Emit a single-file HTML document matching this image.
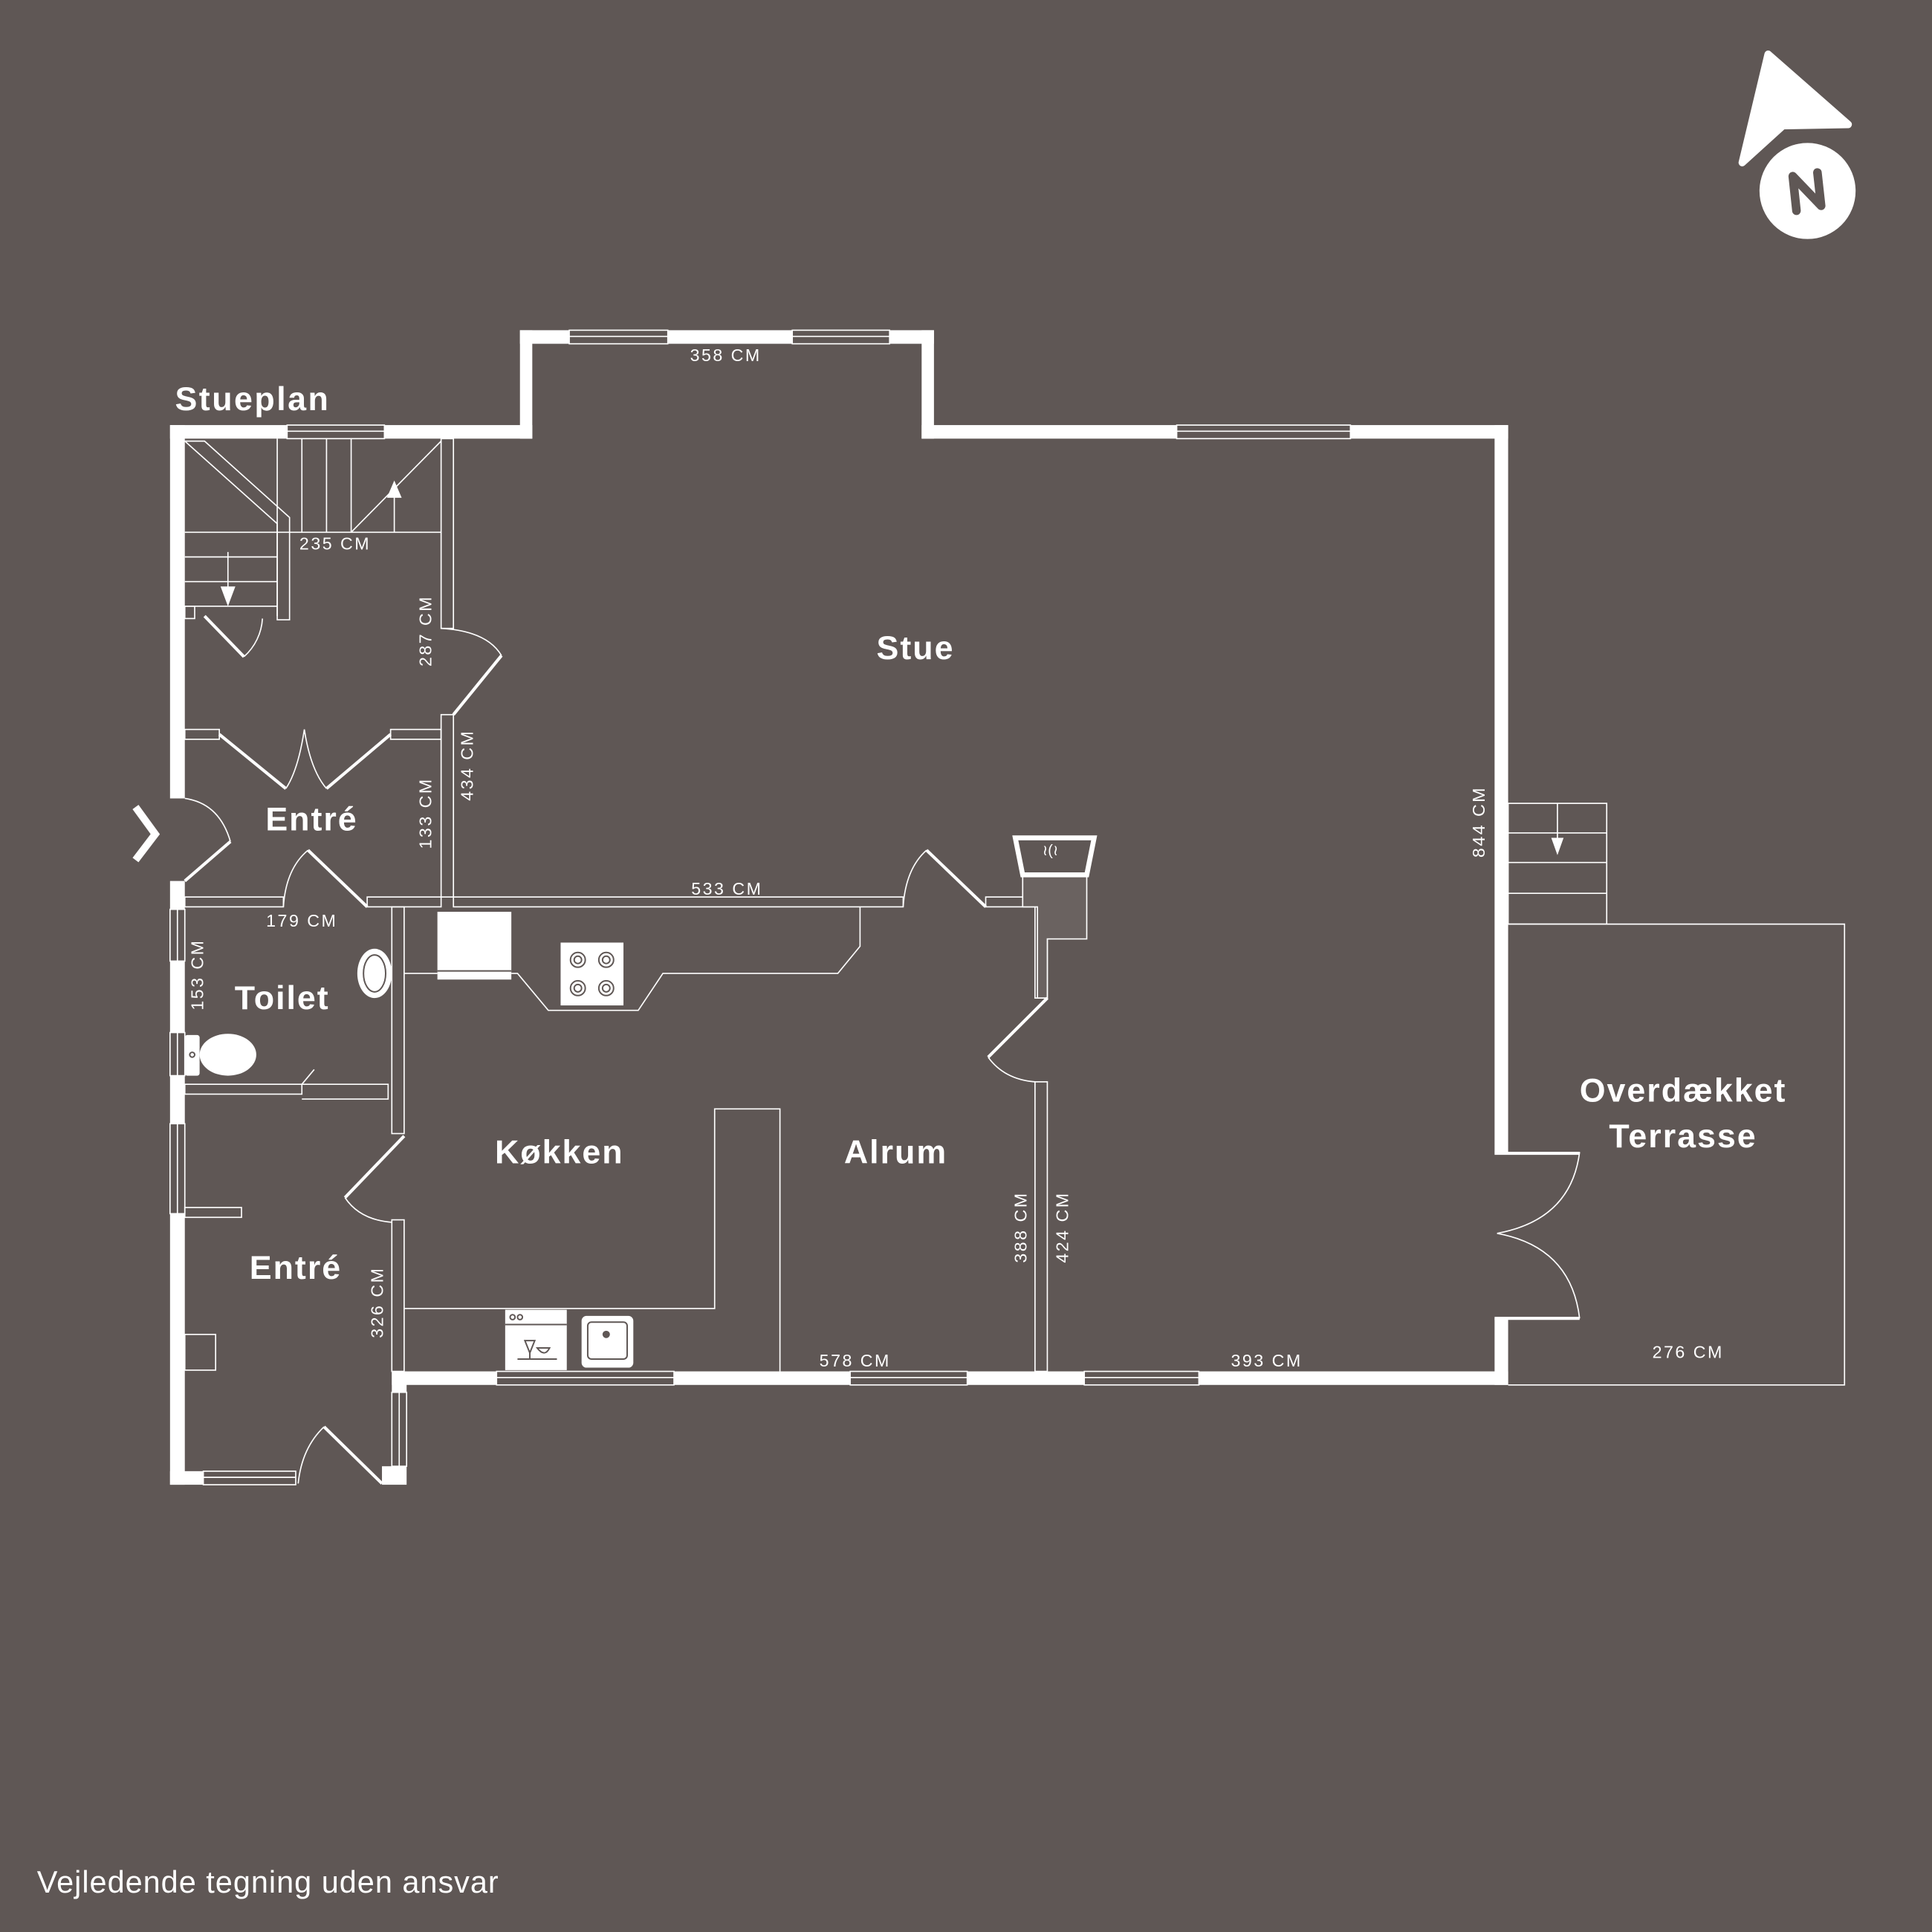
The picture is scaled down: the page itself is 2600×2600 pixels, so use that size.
<!DOCTYPE html>
<html><head><meta charset="utf-8"><style>
html,body{margin:0;padding:0;background:#5f5755;}
svg{display:block}
text{font-family:"Liberation Sans",sans-serif;fill:#fff}
.r{font-weight:bold;font-size:27px;letter-spacing:1.2px}
.d{font-size:14px;letter-spacing:1.5px}
</style></head><body>
<svg width="2600" height="2600" viewBox="0 0 1568 1568" xmlns="http://www.w3.org/2000/svg">
<rect width="1568" height="1568" fill="#5f5755"/>
<g fill="#fff">
<rect x="138" y="345" width="95" height="11"/>
<rect x="312" y="345" width="120" height="11"/>
<rect x="422" y="268" width="40" height="11"/>
<rect x="542" y="268" width="101" height="11"/>
<rect x="722" y="268" width="36" height="11"/>
<rect x="422" y="268" width="10" height="88"/>
<rect x="748" y="268" width="10" height="88"/>
<rect x="748" y="345" width="207" height="11"/>
<rect x="1096" y="345" width="128" height="11"/>
<rect x="1213" y="345" width="11" height="590"/>
<rect x="1213" y="1070" width="11" height="54"/>
<rect x="138" y="345" width="12" height="303"/>
<rect x="138" y="715" width="12" height="23"/>
<rect x="138" y="780" width="12" height="58"/>
<rect x="138" y="873" width="12" height="39"/>
<rect x="138" y="985" width="12" height="220"/>
<rect x="138" y="1194" width="27" height="11"/>
<rect x="310" y="1190" width="20" height="15"/>
<rect x="318" y="1113" width="12" height="17"/>
<rect x="318" y="1113" width="85" height="11"/>
<rect x="547" y="1113" width="143" height="11"/>
<rect x="785" y="1113" width="95" height="11"/>
<rect x="973" y="1113" width="251" height="11"/>
</g>
<g fill="none" stroke="#fff" stroke-width="1">
<rect x="233" y="345" width="79" height="11"/><line x1="233" y1="350" x2="312" y2="350"/>
<rect x="462" y="268" width="80" height="11"/><line x1="462" y1="273" x2="542" y2="273"/>
<rect x="643" y="268" width="79" height="11"/><line x1="643" y1="273" x2="722" y2="273"/>
<rect x="955" y="345" width="141" height="11"/><line x1="955" y1="350" x2="1096" y2="350"/>
<rect x="403" y="1113" width="144" height="11"/><line x1="403" y1="1118" x2="547" y2="1118"/>
<rect x="690" y="1113" width="95" height="11"/><line x1="690" y1="1118" x2="785" y2="1118"/>
<rect x="880" y="1113" width="93" height="11"/><line x1="880" y1="1118" x2="973" y2="1118"/>
<rect x="165" y="1194" width="75" height="11"/><line x1="165" y1="1199" x2="240" y2="1199"/>
<rect x="138" y="738" width="12" height="42"/><line x1="144" y1="738" x2="144" y2="780"/>
<rect x="138" y="838" width="12" height="35"/><line x1="144" y1="838" x2="144" y2="873"/>
<rect x="138" y="912" width="12" height="73"/><line x1="144" y1="912" x2="144" y2="985"/>
<rect x="318" y="1130" width="12" height="60"/><line x1="324" y1="1130" x2="324" y2="1190"/>
<rect x="358" y="356" width="10" height="154"/>
<rect x="358" y="580" width="10" height="148"/>
<rect x="150" y="592" width="28" height="8"/>
<rect x="317" y="592" width="41" height="8"/>
<rect x="150" y="728" width="80" height="8"/>
<rect x="298" y="728" width="60" height="8"/>
<rect x="368" y="728" width="365" height="8"/>
<rect x="800" y="728" width="40" height="8"/>
<rect x="318" y="736" width="10" height="184"/>
<rect x="318" y="990" width="10" height="123"/>
<rect x="840" y="736" width="10" height="74"/>
<rect x="840" y="878" width="10" height="235"/>
<rect x="150" y="880" width="95" height="8"/>
<polyline points="245,880 315,880 315,892 245,892"/>
<rect x="150" y="980" width="46" height="8"/>
<rect x="150" y="1083" width="25" height="29"/>
<line x1="150" y1="432" x2="358" y2="432"/>
<line x1="225" y1="356" x2="225" y2="500"/>
<line x1="245" y1="356" x2="245" y2="432"/>
<line x1="265" y1="356" x2="265" y2="432"/>
<line x1="285" y1="356" x2="285" y2="432"/>
<polygon points="150,358 166,358 235,420 235,503 225,503 225,425"/>
<line x1="150" y1="452" x2="225" y2="452"/>
<line x1="150" y1="472" x2="225" y2="472"/>
<line x1="150" y1="492" x2="225" y2="492"/>
<line x1="285" y1="432" x2="358" y2="358"/>
<line x1="320" y1="432" x2="320" y2="400"/>
<line x1="185" y1="448" x2="185" y2="480"/>
<rect x="150" y="492" width="8" height="10"/>
<path d="M213,502 A45,45 0 0 1 198,533"/>
<path d="M358,510 Q395,512 407,532"/>
<path d="M247,592 Q242,625 232,640 M247,592 Q252,625 265,640"/>
<path d="M150,648 Q178,652 187,683"/>
<path d="M230,736 Q232,705 250,690"/>
<path d="M733,736 Q735,705 752,690"/>
<path d="M280,972 Q292,990 318,992"/>
<path d="M802,858 Q815,876 840,878"/>
<path d="M263,1158 Q245,1175 242,1204"/>
<polyline points="328,790 355,790"/>
<polyline points="415,790 420,790 445,820 518,820 538,790 680,790 698,768 698,736"/>
<polyline points="328,1062 580,1062 580,900 633,900 633,1113"/>
<polygon points="830,710 882,710 882,762 850,762 850,810 842,810 842,736 830,736" fill="#6a6260"/>
<polyline points="1224,750 1497,750 1497,1124 1224,1124"/>
<rect x="1224" y="652" width="80" height="98"/>
<line x1="1224" y1="676" x2="1304" y2="676"/>
<line x1="1224" y1="700" x2="1304" y2="700"/>
<line x1="1224" y1="725" x2="1304" y2="725"/>
<line x1="1264" y1="652" x2="1264" y2="685"/>
<path d="M1282,935 Q1275,990 1215,1001 M1282,1070 Q1275,1012 1215,1001"/>
<line x1="245" y1="880" x2="255" y2="868"/>
</g>
<g stroke="#fff" stroke-width="2.5" fill="none">
<line x1="166" y1="500" x2="198" y2="533"/>
<line x1="178" y1="596" x2="232" y2="640"/>
<line x1="317" y1="596" x2="265" y2="640"/>
<line x1="368" y1="580" x2="407" y2="532"/>
<line x1="150" y1="715" x2="187" y2="683"/>
<line x1="298" y1="736" x2="250" y2="690"/>
<line x1="800" y1="736" x2="752" y2="690"/>
<line x1="328" y1="922" x2="280" y2="972"/>
<line x1="850" y1="810" x2="802" y2="858"/>
<line x1="310" y1="1204" x2="263" y2="1158"/>
<line x1="1213" y1="936" x2="1282" y2="936"/>
<line x1="1213" y1="1070" x2="1282" y2="1070"/>
<polyline points="110,655 126,677 110,698" stroke-width="6"/>
<polygon points="824,680 888,680 882,710 830,710" stroke-width="4" stroke-linejoin="miter"/>
</g>
<g fill="#5f5755" stroke="none"><polygon points="832,683 880,683 876,706 836,706"/></g>
<g fill="#fff">
<polygon points="320,390 314,404 326,404"/>
<polygon points="185,492 179,476 191,476"/>
<polygon points="1264,694 1259,680 1269,680"/>
<text x="846" y="694" style="font-size:12px">≀(≀</text>
<rect x="355" y="740" width="60" height="55"/>
<rect x="455" y="765" width="51" height="51"/>
<rect x="410" y="1063" width="50" height="49"/>
<rect x="472" y="1068" width="42" height="42" rx="4"/>
<ellipse cx="185" cy="856" rx="23" ry="17"/>
<rect x="150" y="840" width="12" height="33" rx="2"/>
<ellipse cx="304" cy="790" rx="14" ry="20"/>
</g>
<line x1="355" y1="788" x2="415" y2="788" stroke="#5f5755" stroke-width="1.2"/>
<g fill="none" stroke="#5f5755" stroke-width="1.2">
<circle cx="469" cy="779" r="6"/><circle cx="492" cy="779" r="6"/><circle cx="469" cy="802" r="6"/><circle cx="492" cy="802" r="6"/>
<circle cx="469" cy="779" r="3"/><circle cx="492" cy="779" r="3"/><circle cx="469" cy="802" r="3"/><circle cx="492" cy="802" r="3"/>
<line x1="410" y1="1075" x2="460" y2="1075"/>
<circle cx="416" cy="1069" r="2"/><circle cx="422" cy="1069" r="2"/>
<path d="M420,1103 L452,1103 M426,1088 L430,1098 L434,1088 Z M430,1098 V1103 M436,1094 Q442,1102 446,1094 Z"/>
<rect x="477" y="1073" width="32" height="30" rx="3"/>
<circle cx="156" cy="856" r="2"/>
<ellipse cx="304" cy="790" rx="9" ry="15"/>
</g>
<circle cx="492" cy="1083" r="3" fill="#5f5755"/>
<polygon points="1435,44 1500,101 1447,102 1414,132" fill="#fff" stroke="#fff" stroke-width="6" stroke-linejoin="round"/>
<circle cx="1467" cy="155" r="39" fill="#fff"/>
<path d="M1458,171 L1455,143 L1478,167 L1475,140" fill="none" stroke="#5f5755" stroke-width="7" stroke-linecap="round" stroke-linejoin="round"/>
<text class="r" x="142" y="333" style="font-size:27px;letter-spacing:1.5px">Stueplan</text>
<text class="r" x="743" y="535" text-anchor="middle">Stue</text>
<text class="r" x="253" y="674" text-anchor="middle">Entré</text>
<text class="r" x="229" y="819" text-anchor="middle">Toilet</text>
<text class="r" x="454" y="944" text-anchor="middle">Køkken</text>
<text class="r" x="727" y="944" text-anchor="middle">Alrum</text>
<text class="r" x="240" y="1038" text-anchor="middle">Entré</text>
<text class="r" x="1366" y="894" text-anchor="middle">Overdækket</text>
<text class="r" x="1366" y="931" text-anchor="middle">Terrasse</text>
<text class="d" x="589" y="293" text-anchor="middle">358 CM</text>
<text class="d" x="272" y="446" text-anchor="middle">235 CM</text>
<text class="d" x="590" y="726" text-anchor="middle">533 CM</text>
<text class="d" x="245" y="752" text-anchor="middle">179 CM</text>
<text class="d" x="694" y="1109" text-anchor="middle">578 CM</text>
<text class="d" x="1028" y="1109" text-anchor="middle">393 CM</text>
<text class="d" x="1370" y="1102" text-anchor="middle">276 CM</text>
<text class="d" transform="translate(350,512) rotate(-90)" text-anchor="middle">287 CM</text>
<text class="d" transform="translate(384,621) rotate(-90)" text-anchor="middle">434 CM</text>
<text class="d" transform="translate(350,660) rotate(-90)" text-anchor="middle">133 CM</text>
<text class="d" transform="translate(165,791) rotate(-90)" text-anchor="middle">153 CM</text>
<text class="d" transform="translate(311,1057) rotate(-90)" text-anchor="middle">326 CM</text>
<text class="d" transform="translate(833,996) rotate(-90)" text-anchor="middle">388 CM</text>
<text class="d" transform="translate(867,996) rotate(-90)" text-anchor="middle">424 CM</text>
<text class="d" transform="translate(1205,667) rotate(-90)" text-anchor="middle">844 CM</text>
<text x="30" y="1536" style="font-size:25px;letter-spacing:0.6px">Vejledende tegning uden ansvar</text>
</svg>
</body></html>
